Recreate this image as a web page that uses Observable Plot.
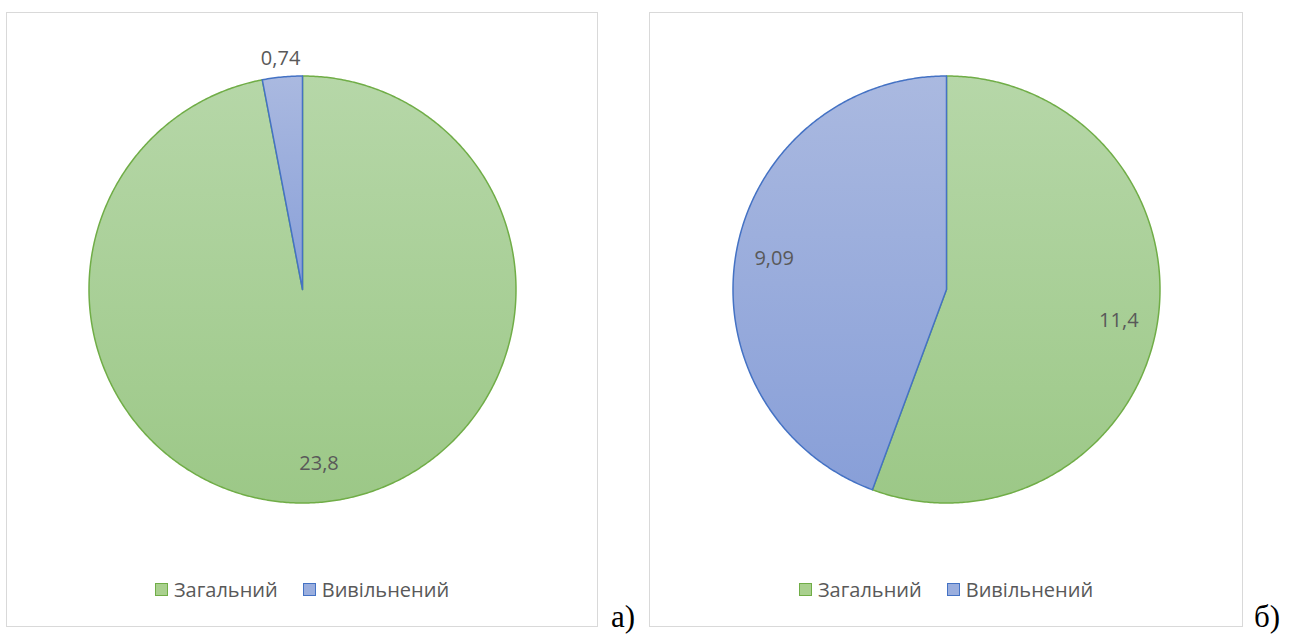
<!DOCTYPE html>
<html lang="uk">
<head>
<meta charset="utf-8">
<title>Загальний і вивільнений</title>
<script src="https://cdn.jsdelivr.net/npm/d3@7"></script>
<script src="https://cdn.jsdelivr.net/npm/@observablehq/plot@0.6"></script>
<style>
  html, body { margin: 0; padding: 0; background: #ffffff; }
  body { width: 1289px; height: 636px; position: relative; overflow: hidden; font-family: "Open Sans", "Noto Sans", sans-serif; }
  .panel { position: absolute; top: 12px; height: 615px; box-sizing: border-box; border: 1.5px solid #d9d9d9; background: #fff; }
  .panel svg { position: absolute; left: 0; top: 0; }
  .legend { position: absolute; left: 0; right: 0; top: 563px; height: 26px; display: flex; justify-content: center; align-items: center; gap: 25px; font-size: 20px; color: #595959; }
  .legend .item { display: flex; align-items: center; gap: 6px; }
  .legend .swatch { width: 11px; height: 11px; border: 1.5px solid; }
  .tag { position: absolute; top: 601px; font-family: "Liberation Serif", "Times New Roman", serif; font-size: 31px; line-height: 31px; color: #000; }
</style>
</head>
<body>
<!-- shared gradient fills for the slices -->
<svg width="0" height="0" style="position:absolute">
  <defs>
    <linearGradient id="fill-green" x1="0" y1="0" x2="0" y2="1">
      <stop offset="0" stop-color="#b6d7a8"/>
      <stop offset="1" stop-color="#9cc887"/>
    </linearGradient>
    <linearGradient id="fill-blue" x1="0" y1="0" x2="0" y2="1">
      <stop offset="0" stop-color="#aab9e0"/>
      <stop offset="1" stop-color="#889fd8"/>
    </linearGradient>
  </defs>
</svg>
<div id="root"></div>
<script>
// Categories and values of the two pies
const groups = ["Загальний", "Вивільнений"];
const valuesA = [23.8, 0.74];
const valuesB = [11.4, 9.09];
const panelTags = ["а)", "б)"];

// Styling per category
const fills = ["url(#fill-green)", "url(#fill-blue)"];
const strokes = ["#70ad47", "#4472c4"];
const swatchFills = ["#a9d08e", "#9aaede"];

const panels = [
  {values: valuesA, tag: panelTags[0], left: 6, width: 592, cx: 295, tagLeft: 611},
  {values: valuesB, tag: panelTags[1], left: 649, width: 594, cx: 296, tagLeft: 1254}
];
const R = 213.5, CY = 276, SVG_H = 560;

// Outline of one slice: centre, arc (clockwise from 12 o'clock), centre
function outline(arc) {
  const n = Math.max(2, Math.ceil((arc.endAngle - arc.startAngle) / (Math.PI / 360)));
  const pts = [{x: 0, y: 0}];
  for (let k = 0; k <= n; k++) {
    const a = arc.startAngle + (arc.endAngle - arc.startAngle) * k / n;
    pts.push({x: Math.sin(a), y: Math.cos(a)});
  }
  pts.push({x: 0, y: 0});
  return pts;
}

const fmt = v => String(v).replace(".", ",");
const root = document.getElementById("root");

for (const p of panels) {
  const arcs = d3.pie().sort(null).value(d => d)(p.values);
  const total = d3.sum(p.values);

  // Value labels: inside for large slices, just outside the rim for thin ones
  const labels = arcs.map((a, i) => {
    const mid = (a.startAngle + a.endAngle) / 2;
    const outside = p.values[i] / total < 0.05;
    const r = outside ? 1.085 : 0.82;
    return {x: r * Math.sin(mid), y: r * Math.cos(mid), text: fmt(p.values[i])};
  });

  const chart = Plot.plot({
    width: p.width - 3,
    height: SVG_H,
    margin: 0,
    style: {fontFamily: "'Open Sans', 'Noto Sans', sans-serif", background: "transparent"},
    x: {domain: [-1, 1], range: [p.cx - R, p.cx + R], axis: null},
    y: {domain: [-1, 1], range: [CY + R, CY - R], axis: null},
    marks: [
      ...arcs.map((a, i) => Plot.line(outline(a), {
        x: "x", y: "y",
        fill: fills[i], stroke: strokes[i], strokeWidth: 1.5,
        strokeLinejoin: "round", curve: "linear"
      })),
      Plot.text(labels, {x: "x", y: "y", text: "text", fontSize: 20, fill: "#595959"})
    ]
  });

  const box = document.createElement("div");
  box.className = "panel";
  box.style.left = p.left + "px";
  box.style.width = p.width + "px";
  box.appendChild(chart);

  const legend = document.createElement("div");
  legend.className = "legend";
  groups.forEach((g, i) => {
    const item = document.createElement("div");
    item.className = "item";
    const sw = document.createElement("span");
    sw.className = "swatch";
    sw.style.background = swatchFills[i];
    sw.style.borderColor = strokes[i];
    const t = document.createElement("span");
    t.textContent = g;
    item.append(sw, t);
    legend.appendChild(item);
  });
  box.appendChild(legend);
  root.appendChild(box);

  const tag = document.createElement("div");
  tag.className = "tag";
  tag.style.left = p.tagLeft + "px";
  tag.textContent = p.tag;
  root.appendChild(tag);
}
</script>
</body>
</html>
